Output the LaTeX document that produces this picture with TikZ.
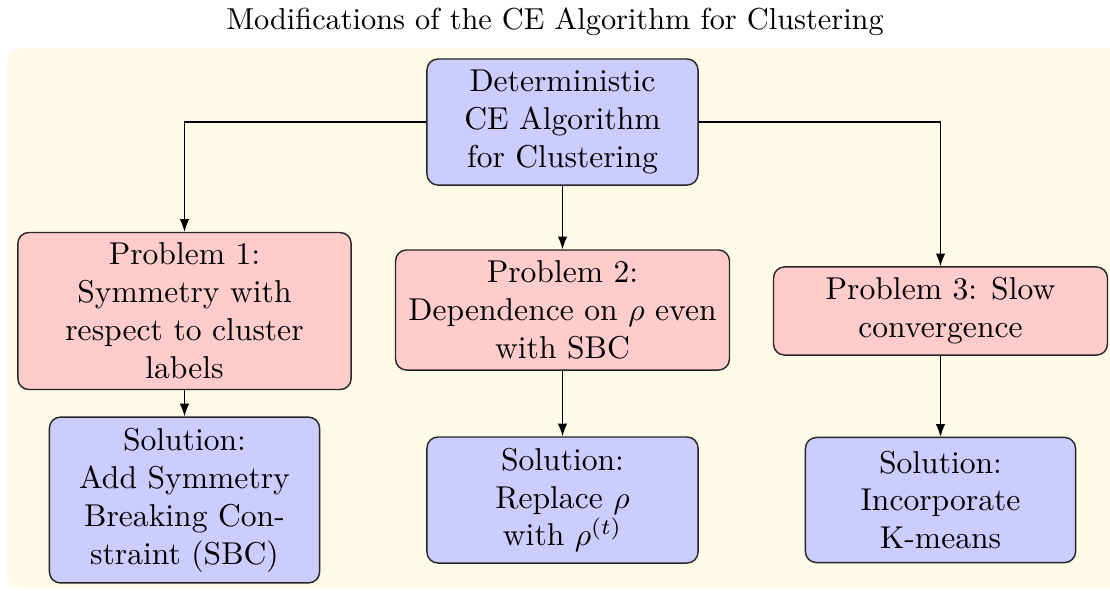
\documentclass[tikz,border=0pt]{standalone}
\usetikzlibrary{arrows.meta}
\definecolor{bgcream}{RGB}{254,251,232}
\begin{document}
\begin{tikzpicture}[x=0.3165pt,y=-0.3165pt,
  box/.style={draw=black!85, rounded corners=3.5pt, align=center, inner sep=0pt, line width=0.45pt},
  sol/.style={box, fill=blue!20},
  prob/.style={box, fill=red!20},
  arr/.style={-{Latex[length=4pt,width=3pt]}, line width=0.4pt}]
\useasboundingbox (0,0) rectangle (1110,590);
\fill[bgcream, rounded corners=4pt] (7,48) rectangle (1122,588);
\node[font=\fontsize{9.6}{11.5}\selectfont] (title) at (555,22) {Modifications of the CE Algorithm for Clustering};
\node[sol, minimum width=85.8pt, minimum height=39.9pt] (T) at (562.5,122)
  {Deterministic\\CE Algorithm\\for Clustering};
\node[prob, minimum width=105.5pt, minimum height=49.7pt] (P1) at (184.5,311)
  {Problem 1:\\Symmetry with\\respect to cluster\\labels};
\node[prob, minimum width=105.7pt, minimum height=38pt] (P2) at (562.5,310)
  {Problem 2:\\Dependence on $\rho$ even\\with SBC};
\node[prob, minimum width=105.7pt, minimum height=27.9pt] (P3) at (940.5,311)
  {Problem 3: Slow\\convergence};
\node[sol, minimum width=85.5pt, minimum height=52.5pt] (S1) at (184.5,500)
  {Solution:\\Add Symmetry\\Breaking Con-\\straint (SBC)};
\node[sol, minimum width=85.8pt, minimum height=39.9pt] (S2) at (562.5,500)
  {Solution:\\Replace $\rho$\\with $\rho^{(t)}$};
\node[sol, minimum width=85.5pt, minimum height=39.6pt] (S3) at (940.5,500)
  {Solution:\\Incorporate\\K-means};
\draw[arr] (T.west) -| (P1.north);
\draw[arr] (T.east) -| (P3.north);
\draw[arr] (T) -- (P2);
\draw[arr] (P1) -- (S1);
\draw[arr] (P2) -- (S2);
\draw[arr] (P3) -- (S3);
\end{tikzpicture}
\end{document}
